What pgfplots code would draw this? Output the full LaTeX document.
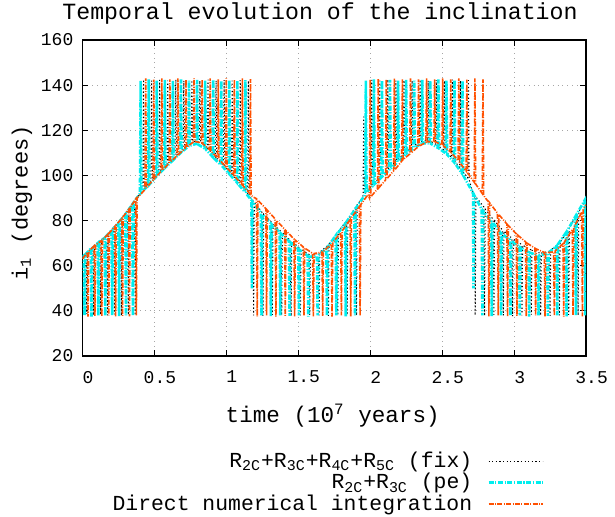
\documentclass[border=0pt]{standalone}
\usepackage{fontspec}
\setmainfont{Liberation Mono}
\usepackage{pgfplots}
\pgfplotsset{compat=1.18}
\definecolor{cyanL}{RGB}{0,238,238}
\definecolor{orangeL}{RGB}{255,80,0}
\begin{document}
\begin{tikzpicture}
\path[use as bounding box] (-41.2pt,-80pt) rectangle (266.3pt,178pt);
\begin{axis}[
  at={(0pt,0pt)}, anchor=south west,
  scale only axis, width=251.8pt, height=158pt,
  xmin=0, xmax=3.5, ymin=20, ymax=160,
  xtick={0,0.5,1,1.5,2,2.5,3,3.5},
  ytick={20,40,60,80,100,120,140,160},
  /pgf/number format/assume math mode=true,
  tick label style={font=\fontsize{9}{10}\selectfont},
  xticklabel style={xshift=2.8pt, yshift=-4pt},
  yticklabel style={xshift=-1pt},
  tick align=inside, major tick length=3pt,
  tick style={black, line width=0.5pt},
  axis line style={black, line width=0.9pt},
  grid=major,
  grid style={gray!70, dotted, line width=0.5pt},
  xlabel={time (10\textsuperscript{7} years)},
  xlabel style={at={(axis description cs:0.497,-0.19)}, anchor=center, font=\fontsize{11.3}{13}\selectfont},
  ylabel={i\textsubscript{1} (degrees)},
  ylabel style={at={(axis description cs:-0.12,0.484)}, anchor=center, rotate=0, font=\fontsize{11}{13}\selectfont},
  legend style={at={(axis description cs:0.917,-0.29)}, anchor=north east, draw=none, fill=none,
    font=\fontsize{10.7}{12}\selectfont, row sep=-2.6pt, inner sep=0pt,
    /tikz/every odd column/.append style={column sep=5.5pt}},
  legend cell align=right, legend plot pos=right,
  legend image code/.code={\draw[#1] (0pt,0pt) -- (27pt,0pt);},
]
\addplot[black, line width=0.5pt, dash pattern=on 0.6pt off 1.2pt] coordinates {
(0,63.5)
(0.026,65.3)(0.031,38.5)(0.036,65.8)
(0.074,68.5)(0.079,38)(0.084,69)
(0.122,70.7)(0.127,38.3)(0.132,71.3)
(0.170,73.3)(0.175,38)(0.180,74)
(0.218,76.8)(0.223,38.4)(0.228,77.5)
(0.266,80.2)(0.271,38)(0.276,81)
(0.314,84.2)(0.319,38.2)(0.324,85)
(0.362,88.6)(0.367,38)(0.372,89.4)
(0.415,93)
(0.420,94)(0.425,142.5)(0.430,94.6)
(0.476,97.5)(0.481,142)(0.486,98.2)
(0.532,101.4)(0.537,142.3)(0.542,102)
(0.588,105)(0.593,142)(0.598,105.6)
(0.644,108.5)(0.649,142.5)(0.654,109)
(0.700,111.8)(0.705,142)(0.710,112.3)
(0.756,114.6)(0.761,142.2)(0.766,115)
(0.812,115)(0.817,142)(0.822,114.6)
(0.868,112)(0.873,142.4)(0.878,111.4)
(0.924,108.3)(0.929,142)(0.934,107.6)
(0.980,104.5)(0.985,142.3)(0.990,103.8)
(1.036,100.6)(1.041,142)(1.046,99.8)
(1.092,96.5)(1.097,142.2)(1.102,95.7)
(1.148,92)(1.153,142)(1.158,91.2)
(1.170,90)
(1.185,89)(1.190,38)(1.195,88.3)
(1.250,83.5)(1.255,37.8)(1.260,82.8)
(1.315,79.2)(1.320,38.2)(1.325,78.6)
(1.380,75.2)(1.385,38)(1.390,74.6)
(1.445,71.3)(1.450,37.7)(1.455,70.8)
(1.510,67.8)(1.515,38)(1.520,67.3)
(1.575,65)(1.580,38.2)(1.585,64.7)
(1.640,65.5)(1.645,38)(1.650,66)
(1.705,69)(1.710,37.8)(1.715,69.7)
(1.770,74.5)(1.775,38)(1.780,75.3)
(1.835,79.8)(1.840,38.2)(1.845,80.6)
(1.900,86)(1.905,38)(1.910,87)
(1.945,90)
(1.950,91)(1.955,126)(1.960,91.7)
(2.006,95)(2.011,142.3)(2.016,95.6)
(2.062,98.8)(2.067,142)(2.072,99.5)
(2.118,102.6)(2.123,142.5)(2.128,103.2)
(2.174,106)(2.179,142)(2.184,106.6)
(2.230,109.3)(2.235,142.2)(2.240,109.9)
(2.286,112.3)(2.291,142)(2.296,112.8)
(2.342,114.7)(2.347,142.4)(2.352,115)
(2.398,115.5)(2.403,142)(2.408,115.3)
(2.454,113.9)(2.459,142.3)(2.464,113.4)
(2.510,111.4)(2.515,142)(2.520,110.8)
(2.566,108)(2.571,142.5)(2.576,107.3)
(2.622,103.5)(2.627,142)(2.632,102.6)
(2.678,99)(2.683,142.2)(2.688,98)
(2.710,93)
(2.725,91.5)(2.730,38)(2.735,90.5)
(2.790,86)(2.795,37.8)(2.800,85)
(2.855,80.5)(2.860,38.2)(2.865,79.8)
(2.920,75.8)(2.925,38)(2.930,75.3)
(2.985,72.2)(2.990,37.6)(2.995,71.8)
(3.050,69.5)(3.055,38)(3.060,69.1)
(3.115,67.1)(3.120,38.3)(3.125,66.8)
(3.180,65.6)(3.185,38)(3.190,65.6)
(3.245,66.4)(3.250,37.8)(3.255,66.8)
(3.310,69.8)(3.315,38)(3.320,70.5)
(3.375,75.7)(3.380,38.2)(3.385,76.8)
(3.440,82.9)(3.445,38)(3.450,84)
(3.500,89.5)
};
\addlegendentry{R\textsubscript{2C}+R\textsubscript{3C}+R\textsubscript{4C}+R\textsubscript{5C} (fix)}
\addplot[cyanL, line width=1.3pt, dash pattern=on 2.5pt off 0.8pt on 0.6pt off 0.8pt] coordinates {
(0,64)
(0.010,64.5)(0.015,38)(0.020,65)
(0.058,67.5)(0.063,37.5)(0.068,67.8)
(0.106,70)(0.111,38)(0.116,70.5)
(0.154,72.3)(0.159,37.8)(0.164,73)
(0.202,75.6)(0.207,38)(0.212,76.3)
(0.250,79)(0.255,37.6)(0.260,79.8)
(0.298,82.8)(0.303,38)(0.308,83.6)
(0.346,87.1)(0.351,37.8)(0.356,88)
(0.395,91.5)
(0.400,92)(0.405,142)(0.410,92.5)
(0.456,95.4)(0.461,142.5)(0.466,96)
(0.512,99.3)(0.517,142)(0.522,100)
(0.568,103)(0.573,142.3)(0.578,103.6)
(0.624,106.4)(0.629,142)(0.634,107)
(0.680,109.8)(0.685,142.5)(0.690,110.4)
(0.736,112.8)(0.741,142)(0.746,113.2)
(0.792,114)(0.797,142.3)(0.802,113.8)
(0.848,112)(0.853,142)(0.858,111.5)
(0.904,108.3)(0.909,142.5)(0.914,107.6)
(0.960,104.8)(0.965,142)(0.970,104.2)
(1.016,101)(1.021,142.3)(1.026,100.3)
(1.072,97)(1.077,142)(1.082,96.2)
(1.128,92.8)(1.133,142.2)(1.138,92)
(1.168,89.5)
(1.175,89)(1.178,50)(1.181,88.5)
(1.240,83.3)(1.245,38)(1.250,82.6)
(1.305,79)(1.310,37.6)(1.315,78.3)
(1.370,74.8)(1.375,38)(1.380,74.2)
(1.435,71)(1.440,37.8)(1.445,70.4)
(1.500,67.5)(1.505,38)(1.510,67)
(1.565,64.5)(1.570,37.5)(1.575,64)
(1.630,64.2)(1.635,38)(1.640,64.7)
(1.695,67.6)(1.700,37.8)(1.705,68.3)
(1.760,73.3)(1.765,38)(1.770,74)
(1.825,78.5)(1.830,37.6)(1.835,79.4)
(1.890,84.5)(1.895,38)(1.900,85.5)
(1.960,91)
(1.965,92)(1.970,142)(1.975,92.5)
(2.021,95.5)(2.026,142.5)(2.031,96.2)
(2.077,99.1)(2.082,142)(2.087,99.7)
(2.133,102.5)(2.138,142.3)(2.143,103.1)
(2.189,105.8)(2.194,142)(2.199,106.4)
(2.245,109.2)(2.250,142.5)(2.255,109.8)
(2.301,112)(2.306,142)(2.311,112.4)
(2.357,114.1)(2.362,142.3)(2.367,114.3)
(2.413,114.2)(2.418,142)(2.423,114)
(2.469,112.3)(2.474,142.5)(2.479,111.9)
(2.525,109.8)(2.530,142)(2.535,109.2)
(2.581,106)(2.586,142.2)(2.591,105.2)
(2.637,101)(2.642,142)(2.647,100)
(2.695,94.5)
(2.715,92)(2.718,50)(2.721,91.5)
(2.775,85)(2.780,38)(2.785,84.2)
(2.840,79.8)(2.845,37.6)(2.850,79.3)
(2.905,74.7)(2.910,38)(2.915,74.2)
(2.970,71.5)(2.975,37.8)(2.980,71)
(3.035,68.5)(3.040,38)(3.045,68.1)
(3.100,66)(3.105,37.5)(3.110,65.8)
(3.165,64.5)(3.170,38)(3.175,64.5)
(3.230,65.5)(3.235,37.8)(3.240,65.8)
(3.295,68.7)(3.300,38)(3.305,69.5)
(3.360,74.6)(3.365,37.6)(3.370,75.5)
(3.425,81.7)(3.430,38)(3.435,82.8)
(3.490,88.9)(3.495,38)(3.500,90)
};
\addlegendentry{R\textsubscript{2C}+R\textsubscript{3C} (pe)}
\addplot[orangeL, line width=0.8pt, dash pattern=on 2.5pt off 0.7pt on 0.5pt off 0.7pt] coordinates {
(0,63)
(0.034,66)(0.039,37.5)(0.044,66.5)
(0.082,68.8)(0.087,37.8)(0.092,69.2)
(0.130,71)(0.135,37.5)(0.140,71.5)
(0.178,74)(0.183,38)(0.188,74.6)
(0.226,77.5)(0.231,37.6)(0.236,78.2)
(0.274,81)(0.279,37.8)(0.284,81.8)
(0.322,85)(0.327,37.6)(0.332,85.8)
(0.370,89.5)(0.375,38)(0.380,90)
(0.425,93)
(0.435,94)(0.440,143)(0.445,94.6)
(0.491,98)(0.496,142.5)(0.501,98.6)
(0.547,101.8)(0.552,143)(0.557,102.3)
(0.603,105.4)(0.608,142.6)(0.613,106)
(0.659,108.8)(0.664,143)(0.669,109.4)
(0.715,112)(0.720,142.5)(0.725,112.5)
(0.771,114.8)(0.776,143)(0.781,115)
(0.827,114.5)(0.832,142.5)(0.837,114)
(0.883,111.5)(0.888,143)(0.893,110.8)
(0.939,107.8)(0.944,142.6)(0.949,107.1)
(0.995,104)(1.000,143)(1.005,103.3)
(1.051,100.2)(1.056,142.5)(1.061,99.4)
(1.107,96.2)(1.112,143)(1.117,95.4)
(1.163,92)(1.168,142.7)(1.173,91.3)
(1.185,90.5)
(1.210,89.7)(1.215,37.6)(1.220,89)
(1.275,85.3)(1.280,38)(1.285,84.6)
(1.340,80.7)(1.345,37.5)(1.350,80)
(1.405,76.2)(1.410,37.8)(1.415,75.5)
(1.470,71.9)(1.475,37.5)(1.480,71.3)
(1.535,68.3)(1.540,38)(1.545,67.8)
(1.600,65.5)(1.605,37.6)(1.610,65.4)
(1.665,66)(1.670,37.8)(1.675,66.4)
(1.730,69.6)(1.735,37.5)(1.740,70.3)
(1.795,74.6)(1.800,38)(1.805,75.4)
(1.860,80.4)(1.865,37.6)(1.870,81.3)
(1.925,86.2)(1.930,37.8)(1.935,87.1)
(1.985,91.5)
(1.995,90)(2.000,142.5)(2.005,90.6)
(2.051,94)(2.056,143)(2.061,94.6)
(2.107,98)(2.112,142.6)(2.117,98.6)
(2.163,102)(2.168,143)(2.173,102.6)
(2.219,106.3)(2.224,142.5)(2.229,107)
(2.275,109.5)(2.280,143)(2.285,110)
(2.331,112.6)(2.336,142.6)(2.341,113)
(2.387,114.6)(2.392,143)(2.397,114.9)
(2.443,115)(2.448,142.5)(2.453,114.9)
(2.499,113.5)(2.504,143)(2.509,113.1)
(2.555,110.6)(2.560,142.6)(2.565,110)
(2.611,106.6)(2.616,143)(2.621,105.8)
(2.667,102)(2.672,142.5)(2.677,101.2)
(2.723,97)(2.728,143)(2.733,96.2)
(2.779,92)(2.784,142.6)(2.789,91.2)
(2.800,90)
(2.820,88.6)(2.825,37.6)(2.830,87.9)
(2.885,83.3)(2.890,38)(2.895,82.6)
(2.950,78.5)(2.955,37.5)(2.960,77.8)
(3.015,74.2)(3.020,37.8)(3.025,73.6)
(3.080,70.6)(3.085,37.5)(3.090,70)
(3.145,67.8)(3.150,38)(3.155,67.4)
(3.210,65.9)(3.215,37.6)(3.220,65.8)
(3.275,66.1)(3.280,37.8)(3.285,66.5)
(3.340,69.7)(3.345,37.5)(3.350,70.5)
(3.405,76)(3.410,38)(3.415,77)
(3.470,83.7)(3.475,37.6)(3.480,84.8)
(3.500,87)
};
\addlegendentry{Direct numerical integration}
\end{axis}
\node[font=\fontsize{11.6}{13}\selectfont, anchor=center] at (118.8pt,171.5pt) {Temporal evolution of the inclination};
\end{tikzpicture}
\end{document}
